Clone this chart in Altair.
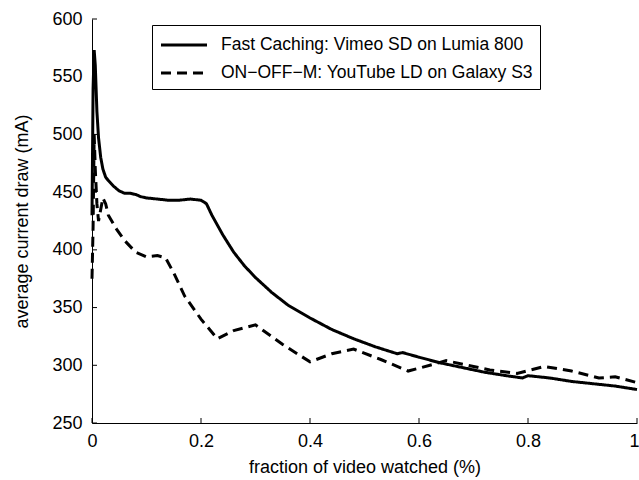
import altair as alt
import pandas as pd

# Fast Caching: Vimeo SD on Lumia 800 (solid)
fc_x = [0.0, 0.002, 0.004, 0.006, 0.009, 0.012, 0.016, 0.02, 0.025, 0.03, 0.04, 0.05, 0.06, 0.07, 0.08,
        0.09, 0.1, 0.12, 0.14, 0.16, 0.18, 0.2, 0.21, 0.22, 0.24, 0.26, 0.28, 0.3, 0.33, 0.36, 0.4,
        0.44, 0.48, 0.52, 0.56, 0.57, 0.6, 0.64, 0.68, 0.72, 0.76, 0.79, 0.8, 0.84, 0.88, 0.92, 0.96, 1.0]
fc_y = [430, 540, 573, 560, 520, 497, 480, 470, 463, 460, 455, 451, 449, 449, 448,
        446, 445, 444, 443, 443, 444, 443, 440, 430, 413, 398, 386, 376, 363, 352, 341,
        331, 323, 316, 310, 311, 307, 302, 298, 294, 291, 289, 291, 289, 286, 284, 282, 279]

# ON-OFF-M: YouTube LD on Galaxy S3 (dashed)
oo_x = [0.0, 0.002, 0.004, 0.006, 0.009, 0.012, 0.016, 0.02, 0.025, 0.03, 0.045, 0.06, 0.08, 0.1,
        0.12, 0.135, 0.15, 0.17, 0.2, 0.23, 0.26, 0.3, 0.35, 0.4, 0.44, 0.48, 0.53, 0.58, 0.62,
        0.65, 0.69, 0.73, 0.78, 0.83, 0.88, 0.93, 0.96, 1.0]
oo_y = [375, 420, 500, 470, 440, 425, 435, 445, 440, 430, 418, 408, 398, 394,
        395, 393, 380, 360, 340, 323, 330, 335, 318, 303, 310, 314, 305, 295, 300,
        304, 300, 296, 293, 299, 295, 289, 290, 285]

series_names = ["Fast Caching: Vimeo SD on Lumia 800", "ON\u2212OFF\u2212M: YouTube LD on Galaxy S3"]

x_ticks = [0, 0.2, 0.4, 0.6, 0.8, 1.0]
y_ticks = [250, 300, 350, 400, 450, 500, 550, 600]

df = pd.concat([
    pd.DataFrame({"x": fc_x, "y": fc_y, "series": series_names[0], "order": range(len(fc_x))}),
    pd.DataFrame({"x": oo_x, "y": oo_y, "series": series_names[1], "order": range(len(oo_x))}),
])

W, H = 545, 404
FONT = "Liberation Sans"

xscale = alt.Scale(domain=[0, 1], nice=False)
yscale = alt.Scale(domain=[250, 600], nice=False)

lines = alt.Chart(df).mark_line(strokeWidth=3, color="black").encode(
    x=alt.X("x:Q", scale=xscale,
            axis=alt.Axis(title="fraction of video watched (%)", values=x_ticks, ticks=False,
                          labelExpr="datum.value == 0 ? '0' : datum.value == 1 ? '1' : format(datum.value, '.1f')",
                          labelAlign={"condition": {"test": "datum.value == 1", "value": "right"}, "value": "center"},
                          labelOffset={"condition": {"test": "datum.value == 1", "value": 2}, "value": 0},
                          grid=False, domainColor="black", labelPadding=9, titlePadding=8,
                          labelFlush=False)),
    y=alt.Y("y:Q", scale=yscale,
            axis=alt.Axis(title="average current draw (mA)", values=y_ticks, ticks=False, grid=False,
                          domainColor="black", labelPadding=10, titlePadding=20)),
    strokeDash=alt.StrokeDash("series:N",
                              scale=alt.Scale(domain=series_names, range=[[1, 0], [10, 6]]),
                              legend=alt.Legend(title=None, orient="none", legendX=60, legendY=6,
                                                strokeColor="black", fillColor="white", padding=7,
                                                symbolType="M-2,0H2", symbolSize=529,
                                                symbolStrokeWidth=3, symbolStrokeColor="black",
                                                symbolOffset=12,
                                                labelFontSize=17.5, labelFont=FONT, labelColor="black",
                                                labelLimit=0, rowPadding=6, labelOffset=24)),
    order="order:Q",
)

xt = alt.Chart(pd.DataFrame({"v": x_ticks})).mark_rule(color="black", strokeWidth=1).encode(
    x=alt.X("v:Q", scale=xscale), y=alt.value(H), y2=alt.value(H - 5))
yt = alt.Chart(pd.DataFrame({"v": y_ticks})).mark_rule(color="black", strokeWidth=1).encode(
    y=alt.Y("v:Q", scale=yscale), x=alt.value(0), x2=alt.value(5))

chart = alt.layer(lines, xt, yt).properties(
    width=W, height=H,
    background="white",
    autosize=alt.AutoSizeParams(type="none"),
    padding={"left": 92, "top": 19, "right": 2, "bottom": 57},
).configure_view(stroke=None).configure_axis(
    labelFont=FONT, titleFont=FONT, labelFontSize=18, titleFontSize=18,
    labelColor="black", titleColor="black", titleFontWeight="normal",
)

chart.save("out.html", embed_options={"renderer": "svg", "actions": False})
